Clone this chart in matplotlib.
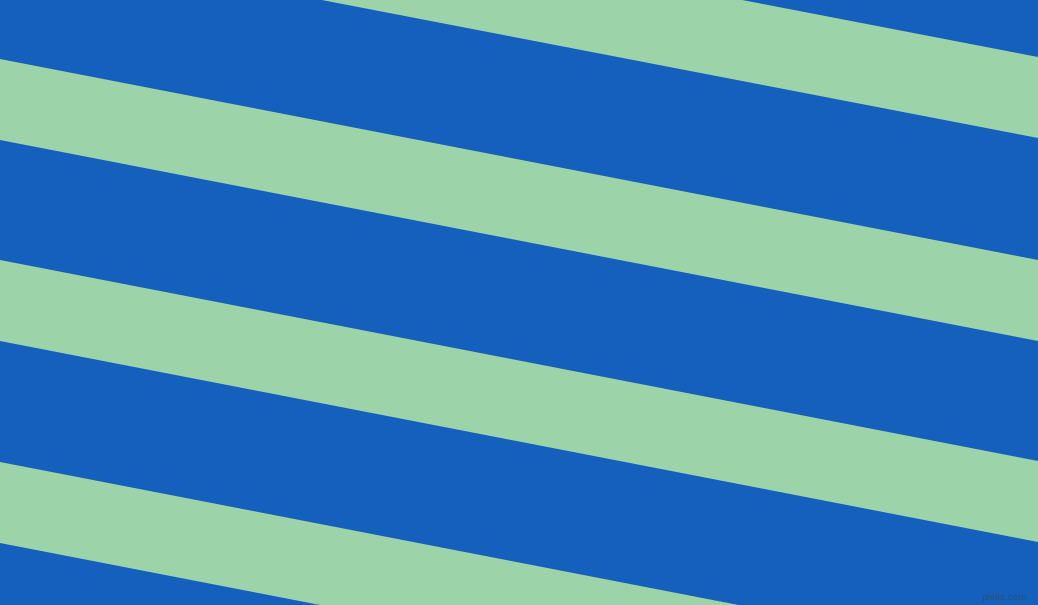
#!/usr/bin/env python3

import numpy as np
import matplotlib.pyplot as plt

# stripe layout, in pixels of the 1038x605 picture
width_px, height_px = 1038, 605
stripe_left_top = [-143, 59, 260, 462]   # top edge of each green stripe at x=0
stripe_right_top = [57, 260, 461, 663]   # top edge of each green stripe at x=1038
stripe_thickness = 81
blue = "#1560bd"
green = "#9dd3a8"

fig = plt.figure(figsize=(width_px / 100, height_px / 100), dpi=100)
ax = fig.add_axes([0, 0, 1, 1])
ax.set_xlim(0, width_px)
ax.set_ylim(height_px, 0)
ax.axis("off")
ax.add_patch(plt.Rectangle((0, 0), width_px, height_px, color=blue))

xs = np.array([0, width_px])
for y0, y1 in zip(stripe_left_top, stripe_right_top):
    top = np.array([y0, y1])
    ax.fill_between(xs, top, top + stripe_thickness, color=green, lw=0)

ax.text(1027, 597, "pixlis.com", color="#2a4f7a", fontsize=6.5,
        ha="right", va="center", family="DejaVu Sans")

fig.savefig("out.png", dpi=100)
